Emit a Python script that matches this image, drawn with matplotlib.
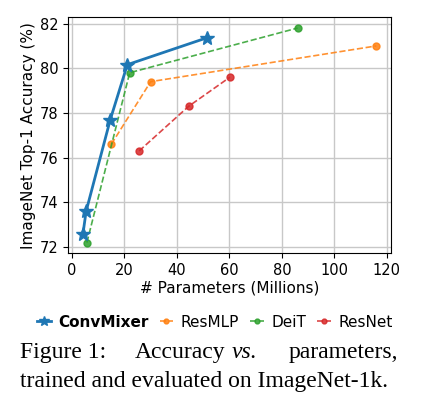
import matplotlib
matplotlib.use('Agg')
import matplotlib.pyplot as plt

# parameters (millions) and top-1 accuracy (%)
convmixer_params = [4.2, 5.4, 14.6, 21.1, 51.6]
convmixer_acc = [72.6, 73.6, 77.7, 80.16, 81.37]

resmlp_params = [15.0, 30.0, 116.0]
resmlp_acc = [76.6, 79.4, 81.0]

deit_params = [5.7, 22.0, 86.0]
deit_acc = [72.2, 79.8, 81.8]

resnet_params = [25.6, 44.5, 60.2]
resnet_acc = [76.3, 78.3, 79.6]

fig = plt.figure(figsize=(4.23, 3.96), dpi=100)
ax = fig.add_axes([0.1615, 0.3604, 0.7628, 0.5959])

ax.plot(convmixer_params, convmixer_acc, '-*', color='tab:blue', linewidth=2,
        markersize=10, label='ConvMixer', zorder=5)
ax.plot(resmlp_params, resmlp_acc, '--o', color='tab:orange', linewidth=1.2,
        markersize=5, alpha=0.85, label='ResMLP')
ax.plot(deit_params, deit_acc, '--o', color='tab:green', linewidth=1.2,
        markersize=5, alpha=0.85, label='DeiT')
ax.plot(resnet_params, resnet_acc, '--o', color='tab:red', linewidth=1.2,
        markersize=5, alpha=0.85, label='ResNet')

ax.grid(True, color='#c8c8c8', linewidth=1)
ax.set_axisbelow(True)
ax.set_xticks([0, 20, 40, 60, 80, 100, 120])
ax.set_yticks([72, 74, 76, 78, 80, 82])
ax.tick_params(labelsize=10.5)
ax.set_xlabel('# Parameters (Millions)', fontsize=11, labelpad=2)
ax.set_ylabel('ImageNet Top-1 Accuracy (%)', fontsize=11, labelpad=3)

leg = fig.legend(loc='center', bbox_to_anchor=(0.508, 0.186), ncol=4,
                 frameon=False, fontsize=11, handlelength=0.9,
                 handletextpad=0.5, columnspacing=0.7, markerscale=0.7)
leg.get_texts()[0].set_fontweight('bold')

serif = 'Liberation Serif'
fig.text(0.047, 0.096, 'Figure 1:', family=serif, fontsize=17, va='baseline')
fig.text(0.319, 0.096, 'Accuracy', family=serif, fontsize=17, va='baseline')
fig.text(0.548, 0.096, 'vs.', family=serif, style='italic', fontsize=17,
         va='baseline')
fig.text(0.942, 0.096, 'parameters,', family=serif, fontsize=17,
         va='baseline', ha='right')
fig.text(0.047, 0.023, 'trained and evaluated on ImageNet-1k.',
         family=serif, fontsize=17, va='baseline')

fig.savefig('out.png', dpi=100)
